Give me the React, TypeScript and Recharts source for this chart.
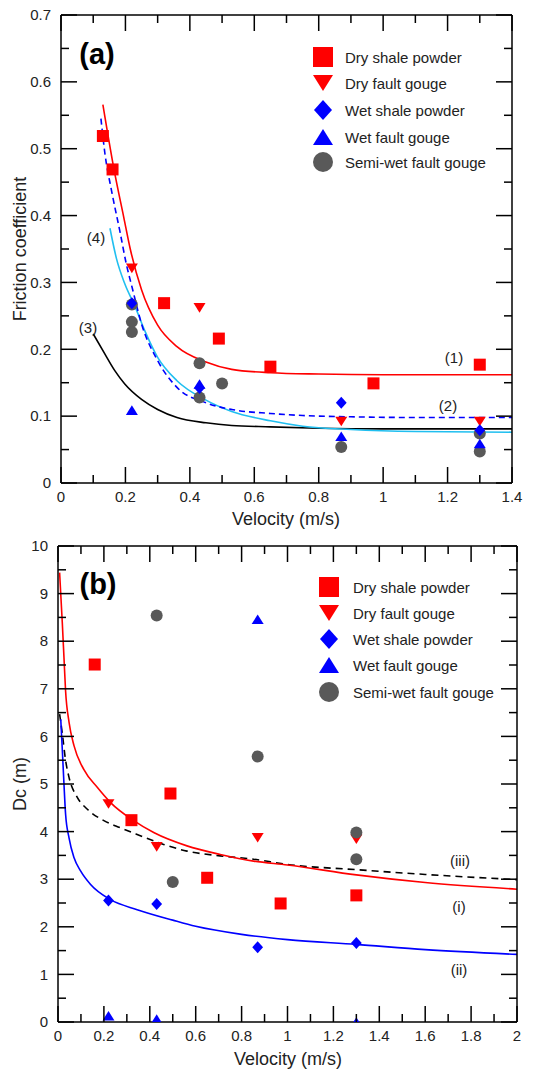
import React from 'react';
import { ComposedChart, Scatter, Line, XAxis, YAxis } from 'recharts';

// ---- panel (a): friction coefficient vs velocity ----
const aXTicks = [0, 0.1, 0.2, 0.3, 0.4, 0.5, 0.6, 0.7, 0.8, 0.9, 1, 1.1, 1.2, 1.3, 1.4];
const aYTicks = [0, 0.05, 0.1, 0.15, 0.2, 0.25, 0.3, 0.35, 0.4, 0.45, 0.5, 0.55, 0.6, 0.65, 0.7];

const aDryShaleV = [0.13, 0.16, 0.32, 0.49, 0.65, 0.97, 1.3];
const aDryShaleF = [0.519, 0.469, 0.269, 0.216, 0.174, 0.149, 0.177];
const aDryGougeV = [0.22, 0.43, 0.87, 1.3];
const aDryGougeF = [0.321, 0.262, 0.092, 0.092];
const aWetShaleV = [0.22, 0.43, 0.87, 1.3];
const aWetShaleF = [0.269, 0.142, 0.12, 0.079];
const aWetGougeV = [0.22, 0.43, 0.87, 1.3];
const aWetGougeF = [0.109, 0.148, 0.07, 0.059];
const aSemiWetV = [0.22, 0.22, 0.22, 0.43, 0.43, 0.5, 0.87, 1.3, 1.3];
const aSemiWetF = [0.267, 0.241, 0.226, 0.179, 0.128, 0.149, 0.054, 0.074, 0.047];

// fitted curves (1)-(4)
const aFit1V = [0.13, 0.165, 0.195, 0.215, 0.25, 0.3, 0.36, 0.45, 0.53, 0.65, 0.8, 1.0, 1.2, 1.4];
const aFit1F = [0.566, 0.468, 0.397, 0.35, 0.289, 0.236, 0.204, 0.181, 0.17, 0.165, 0.163, 0.162, 0.162, 0.162];
const aFit2V = [0.124, 0.136, 0.157, 0.183, 0.203, 0.221, 0.25, 0.3, 0.36, 0.45, 0.53, 0.65, 0.75, 0.9, 1.1, 1.4];
const aFit2F = [0.545, 0.494, 0.437, 0.376, 0.327, 0.292, 0.238, 0.183, 0.143, 0.12, 0.11, 0.104, 0.101, 0.099, 0.098, 0.098];
const aFit3V = [0.1, 0.136, 0.167, 0.198, 0.25, 0.3, 0.36, 0.45, 0.53, 0.65, 0.8, 1.0, 1.4];
const aFit3F = [0.223, 0.193, 0.168, 0.148, 0.125, 0.11, 0.098, 0.09, 0.086, 0.084, 0.082, 0.081, 0.081];
const aFit4V = [0.152, 0.172, 0.198, 0.229, 0.26, 0.3, 0.36, 0.45, 0.53, 0.65, 0.75, 0.9, 1.1, 1.4];
const aFit4F = [0.381, 0.336, 0.298, 0.265, 0.228, 0.188, 0.153, 0.124, 0.107, 0.093, 0.085, 0.08, 0.077, 0.076];

// ---- panel (b): Dc vs velocity ----
const bXTicks = [0, 0.1, 0.2, 0.3, 0.4, 0.5, 0.6, 0.7, 0.8, 0.9, 1, 1.1, 1.2, 1.3, 1.4, 1.5, 1.6, 1.7, 1.8, 1.9, 2];
const bYTicks = [0, 0.5, 1, 1.5, 2, 2.5, 3, 3.5, 4, 4.5, 5, 5.5, 6, 6.5, 7, 7.5, 8, 8.5, 9, 9.5, 10];

const bDryShaleV = [0.16, 0.32, 0.49, 0.65, 0.97, 1.3];
const bDryShaleD = [7.51, 4.24, 4.8, 3.03, 2.49, 2.66];
const bDryGougeV = [0.22, 0.43, 0.87, 1.3];
const bDryGougeD = [4.58, 3.68, 3.87, 3.84];
const bWetShaleV = [0.22, 0.43, 0.87, 1.3];
const bWetShaleD = [2.55, 2.48, 1.57, 1.66];
const bWetGougeV = [0.22, 0.43, 0.87, 1.3];
const bWetGougeD = [0.13, 0.06, 8.46, 0.0];
const bSemiWetV = [0.43, 0.87, 0.5, 1.3, 1.3];
const bSemiWetD = [8.54, 5.58, 2.94, 3.98, 3.42];

const bFit1V = [0.007, 0.019, 0.026, 0.033, 0.048, 0.07, 0.113, 0.171, 0.229, 0.33, 0.417, 0.562, 0.707, 0.852, 1.0, 1.3, 1.6, 2.0];
const bFit1D = [9.44, 8.36, 7.66, 6.96, 6.3, 5.8, 5.3, 4.93, 4.61, 4.23, 3.98, 3.7, 3.52, 3.38, 3.3, 3.09, 2.93, 2.79];
const bFit2V = [0.012, 0.019, 0.026, 0.033, 0.048, 0.07, 0.099, 0.142, 0.229, 0.345, 0.5, 0.6, 0.8, 1.0, 1.3, 1.6, 2.0];
const bFit2D = [6.36, 5.7, 5.0, 4.37, 3.87, 3.45, 3.17, 2.89, 2.57, 2.36, 2.14, 2.01, 1.84, 1.73, 1.63, 1.52, 1.42];
const bFit3V = [0.007, 0.019, 0.033, 0.048, 0.084, 0.128, 0.2, 0.272, 0.345, 0.46, 0.562, 0.707, 0.852, 1.0, 1.3, 1.6, 2.0];
const bFit3D = [6.47, 6.05, 5.5, 5.14, 4.72, 4.47, 4.23, 4.08, 3.94, 3.73, 3.59, 3.49, 3.42, 3.31, 3.2, 3.1, 2.99];

const legendNames = ['Dry shale powder', 'Dry fault gouge', 'Wet shale powder', 'Wet fault gouge', 'Semi-wet fault gouge'];
const legendKinds = ['square', 'down', 'diamond', 'up', 'circle'];

const RED = '#ff0000';
const BLUE = '#0000ff';
const GREY = '#595959';
const CYAN = '#20bff0';
const FONT = '"Liberation Sans", Arial, Helvetica, sans-serif';
const kindColor: Record<string, string> = { square: RED, down: RED, diamond: BLUE, up: BLUE, circle: GREY };

const zip = (xs: number[], ys: number[]) => xs.map((x, i) => ({ x, y: ys[i] }));

const Marker = ({ kind, cx, cy, size }: { kind: string; cx: number; cy: number; size: number }) => {
  const h = size / 2;
  const fill = kindColor[kind];
  switch (kind) {
    case 'square':
      return <rect x={cx - h} y={cy - h} width={size} height={size} fill={fill} />;
    case 'down':
      return <polygon points={`${cx - h},${cy - h * 0.8} ${cx + h},${cy - h * 0.8} ${cx},${cy + h * 0.8}`} fill={fill} />;
    case 'up':
      return <polygon points={`${cx - h},${cy + h * 0.8} ${cx + h},${cy + h * 0.8} ${cx},${cy - h * 0.8}`} fill={fill} />;
    case 'diamond':
      return <polygon points={`${cx},${cy - h} ${cx + h * 0.9},${cy} ${cx},${cy + h} ${cx - h * 0.9},${cy}`} fill={fill} />;
    default:
      return <circle cx={cx} cy={cy} r={h} fill={fill} />;
  }
};

// ticks point inwards, majors longer and labelled
const makeTick = (side: string, step: number, labelled: boolean, gap: number) => (props: any) => {
  const { x, y, payload } = props;
  const v = payload.value;
  const major = Math.abs(v / step - Math.round(v / step)) < 1e-6;
  const len = major ? 16 : 8;
  let line;
  let label = null;
  if (side === 'bottom') {
    line = <line x1={x} x2={x} y1={y} y2={y - len} />;
    label = <text x={x} y={y + gap} dy="0.35em" textAnchor="middle">{v}</text>;
  } else if (side === 'top') {
    line = <line x1={x} x2={x} y1={y} y2={y + len} />;
  } else if (side === 'left') {
    line = <line x1={x} x2={x + len} y1={y} y2={y} />;
    label = <text x={x - gap} y={y} dy="0.35em" textAnchor="end">{v}</text>;
  } else {
    line = <line x1={x} x2={x - len} y1={y} y2={y} />;
  }
  return (
    <g stroke="#000" strokeWidth={1.5}>
      {line}
      {labelled && major && (
        <g stroke="none" fill="#222" fontSize={15} fontFamily={FONT}>{label}</g>
      )}
    </g>
  );
};

const axisLine = { stroke: '#000', strokeWidth: 1.5 };

type Panel = {
  width: number;
  height: number;
  margin: { top: number; right: number; bottom: number; left: number };
  topH: number;
  xMax: number;
  yMax: number;
  xTicks: number[];
  yTicks: number[];
  yStep: number;
  points: { kind: string; data: { x: number; y: number }[] }[];
  curves: { data: { x: number; y: number }[]; color: string; dash?: string }[];
  markerSize: number;
};

const PanelChart = ({ p }: { p: Panel }) => (
  <ComposedChart width={p.width} height={p.height} margin={p.margin}>
    <XAxis dataKey="x" type="number" domain={[0, p.xMax]} ticks={p.xTicks} interval={0} height={40}
      tickSize={0} tickMargin={0} tickLine={false} axisLine={axisLine} allowDataOverflow
      tick={makeTick('bottom', 0.2, true, 14)} />
    <XAxis xAxisId="top" orientation="top" dataKey="x" type="number" domain={[0, p.xMax]} ticks={p.xTicks}
      interval={0} height={p.topH} tickSize={0} tickMargin={0} tickLine={false} axisLine={axisLine} allowDataOverflow
      tick={makeTick('top', 0.2, false, 0)} />
    <YAxis dataKey="y" type="number" domain={[0, p.yMax]} ticks={p.yTicks} interval={0} width={50}
      tickSize={0} tickMargin={0} tickLine={false} axisLine={axisLine} allowDataOverflow
      tick={makeTick('left', p.yStep, true, 10)} />
    <YAxis yAxisId="right" orientation="right" dataKey="y" type="number" domain={[0, p.yMax]} ticks={p.yTicks}
      interval={0} width={10} tickSize={0} tickMargin={0} tickLine={false} axisLine={axisLine} allowDataOverflow
      tick={makeTick('right', p.yStep, false, 0)} />
    {p.curves.map((c, i) => (
      <Line key={'c' + i} data={c.data} dataKey="y" type="monotone" stroke={c.color} strokeWidth={1.6}
        strokeDasharray={c.dash} dot={false} activeDot={false} isAnimationActive={false} />
    ))}
    {p.points.map((s) => (
      <Scatter key={s.kind} data={s.data} isAnimationActive={false}
        shape={(sp: any) => <Marker kind={s.kind} cx={sp.cx} cy={sp.cy} size={p.markerSize} />} />
    ))}
  </ComposedChart>
);

// margins + axis sizes put plot (a) at x 61..512, y 15..483
const panelA: Panel = {
  width: 542,
  height: 530,
  margin: { top: 5, right: 20, bottom: 7, left: 11 },
  topH: 10,
  xMax: 1.4,
  yMax: 0.7,
  xTicks: aXTicks,
  yTicks: aYTicks,
  yStep: 0.1,
  markerSize: 12,
  points: [
    { kind: 'square', data: zip(aDryShaleV, aDryShaleF) },
    { kind: 'down', data: zip(aDryGougeV, aDryGougeF) },
    { kind: 'circle', data: zip(aSemiWetV, aSemiWetF) },
    { kind: 'diamond', data: zip(aWetShaleV, aWetShaleF) },
    { kind: 'up', data: zip(aWetGougeV, aWetGougeF) },
  ],
  curves: [
    { data: zip(aFit3V, aFit3F), color: '#000' },
    { data: zip(aFit4V, aFit4F), color: CYAN },
    { data: zip(aFit2V, aFit2F), color: BLUE, dash: '6 4' },
    { data: zip(aFit1V, aFit1F), color: RED },
  ],
};

// chart (b) starts at page y 530; plot at x 58..517, y 546..1022
const panelB: Panel = {
  width: 542,
  height: 541,
  margin: { top: 10, right: 15, bottom: 9, left: 8 },
  topH: 6,
  xMax: 2,
  yMax: 10,
  xTicks: bXTicks,
  yTicks: bYTicks,
  yStep: 1,
  markerSize: 12,
  points: [
    { kind: 'square', data: zip(bDryShaleV, bDryShaleD) },
    { kind: 'down', data: zip(bDryGougeV, bDryGougeD) },
    { kind: 'circle', data: zip(bSemiWetV, bSemiWetD) },
    { kind: 'diamond', data: zip(bWetShaleV, bWetShaleD) },
    { kind: 'up', data: zip(bWetGougeV, bWetGougeD) },
  ],
  curves: [
    { data: zip(bFit3V, bFit3D), color: '#000', dash: '7 5' },
    { data: zip(bFit2V, bFit2D), color: BLUE },
    { data: zip(bFit1V, bFit1D), color: RED },
  ],
};

const txt = (left: number, top: number, s: string, extra: React.CSSProperties = {}) => (
  <div style={{ position: 'absolute', left, top, transform: 'translate(-50%, -50%)', whiteSpace: 'nowrap',
    fontFamily: FONT, fontSize: 15, color: '#222', ...extra }}>{s}</div>
);

const Legend = ({ mx, tx, rows }: { mx: number; tx: number; rows: number[] }) => (
  <>
    {legendNames.map((name, i) => (
      <React.Fragment key={name}>
        <svg width={22} height={22} style={{ position: 'absolute', left: mx - 11, top: rows[i] - 11 }}>
          <Marker kind={legendKinds[i]} cx={11} cy={11} size={20} />
        </svg>
        <div style={{ position: 'absolute', left: tx, top: rows[i], transform: 'translateY(-50%)',
          fontFamily: FONT, fontSize: 15, color: '#222', whiteSpace: 'nowrap' }}>{name}</div>
      </React.Fragment>
    ))}
  </>
);

export default function App() {
  return (
    <div style={{ position: 'absolute', left: 0, top: 0, width: 542, height: 1071, background: '#fff' }}>
      <div style={{ position: 'absolute', left: 0, top: 0 }}>
        <PanelChart p={panelA} />
      </div>
      <div style={{ position: 'absolute', left: 0, top: 530 }}>
        <PanelChart p={panelB} />
      </div>

      {txt(20, 249, 'Friction coefficient', { fontSize: 18, transform: 'translate(-50%, -50%) rotate(-90deg)' })}
      {txt(286, 519, 'Velocity (m/s)', { fontSize: 18 })}
      {txt(20, 784, 'Dc (m)', { fontSize: 18, transform: 'translate(-50%, -50%) rotate(-90deg)' })}
      {txt(288, 1059, 'Velocity (m/s)', { fontSize: 18 })}

      {txt(97, 54, '(a)', { fontSize: 29, fontWeight: 'bold', color: '#000' })}
      {txt(98, 584, '(b)', { fontSize: 29, fontWeight: 'bold', color: '#000' })}

      {txt(454, 357, '(1)')}
      {txt(448, 405, '(2)')}
      {txt(88, 327, '(3)')}
      {txt(96, 237, '(4)')}
      {txt(460, 860, '(iii)')}
      {txt(459, 906, '(i)')}
      {txt(459, 969, '(ii)')}

      <Legend mx={323} tx={345} rows={[57, 83, 110, 137, 162]} />
      <Legend mx={329} tx={353} rows={[587, 613, 639, 665, 692]} />
    </div>
  );
}
